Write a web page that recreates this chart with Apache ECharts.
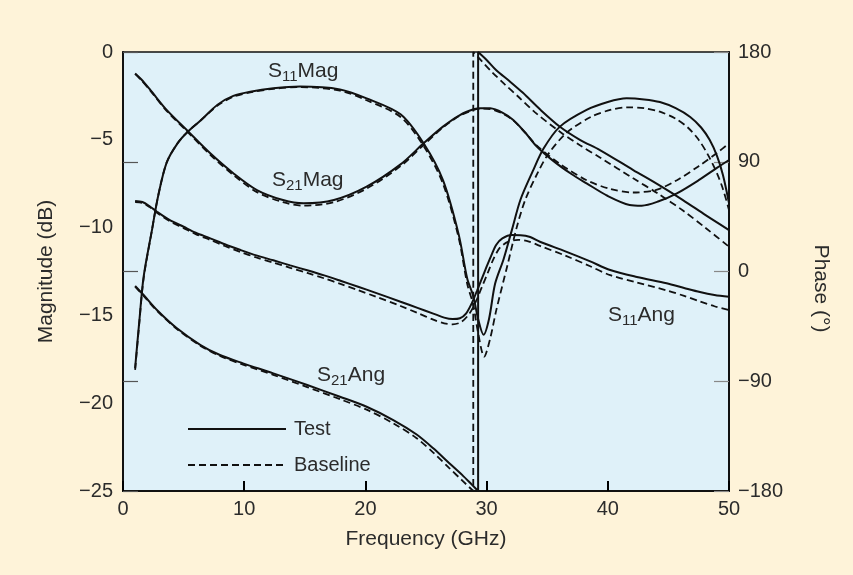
<!DOCTYPE html>
<html>
<head>
<meta charset="utf-8">
<title>S-parameters: Test vs Baseline</title>
<script src="https://cdn.jsdelivr.net/npm/echarts@6.0.0/dist/echarts.min.js"></script>
<style>
  html, body { margin: 0; padding: 0; background: #fef3d9; }
  #chart { width: 853px; height: 575px; }
</style>
</head>
<body>
<div id="chart"></div>
<script>
// [frequency GHz, magnitude dB]
const s11MagTest = [[1.0,-18.0],[1.35,-15.3],[1.7,-12.8],[2.4,-10.1],[2.9,-8.2],[3.6,-6.3],[4.5,-5.2],[5.4,-4.5],[6.4,-3.9],[7.8,-3.0],[9.1,-2.5],[10.5,-2.26],[12.4,-2.07],[14.6,-1.97],[17.9,-2.13],[20.1,-2.64],[22.9,-3.55],[24.8,-5.2],[26.4,-7.3],[27.7,-10.4],[28.4,-12.9],[28.9,-13.9],[29.3,-15.2],[29.75,-16.1],[30.2,-15.2],[30.7,-13.2],[31.4,-11.8],[32.1,-10.1],[32.8,-8.4],[33.8,-6.8],[34.7,-5.5],[36.05,-4.25],[38.25,-3.3],[40.0,-2.85],[41.55,-2.64],[43.0,-2.7],[44.3,-2.85],[45.6,-3.2],[46.8,-3.7],[47.7,-4.3],[48.4,-5.0],[49.0,-5.9],[49.5,-7.0],[50.0,-8.6]];
const s11MagBase = [[1.0,-18.1],[1.35,-15.4],[1.7,-12.9],[2.4,-10.1],[2.9,-8.2],[3.6,-6.3],[4.5,-5.2],[5.4,-4.5],[6.4,-3.9],[7.8,-3.05],[9.1,-2.55],[10.5,-2.3],[12.4,-2.1],[14.6,-2.0],[17.9,-2.2],[20.1,-2.75],[22.9,-3.7],[24.8,-5.35],[26.4,-7.5],[27.7,-10.6],[28.4,-13.2],[28.9,-14.4],[29.3,-16.0],[29.8,-17.35],[30.3,-16.3],[30.8,-14.7],[31.7,-12.2],[32.5,-9.95],[33.2,-8.4],[34.2,-6.9],[35.1,-5.8],[36.6,-4.6],[38.6,-3.7],[40.2,-3.3],[41.6,-3.15],[43.0,-3.2],[44.3,-3.4],[45.6,-3.8],[46.6,-4.3],[47.5,-5.0],[48.3,-5.9],[49.0,-6.9],[49.5,-7.8],[50.0,-9.0]];
const s21MagTest = [[1.0,-1.22],[1.5,-1.55],[2.25,-2.16],[3.6,-3.3],[5.4,-4.54],[7.2,-5.77],[9.1,-6.9],[11.05,-7.86],[13.2,-8.43],[14.9,-8.62],[17.4,-8.43],[20.1,-7.67],[22.9,-6.4],[24.8,-5.2],[26.4,-4.25],[27.8,-3.59],[29.0,-3.25],[29.5,-3.2],[30.3,-3.21],[31.3,-3.45],[32.2,-3.87],[33.2,-4.6],[34.1,-5.35],[35.5,-6.2],[37.0,-6.95],[38.25,-7.48],[40.0,-8.2],[41.8,-8.71],[42.8,-8.75],[44.2,-8.5],[45.7,-8.05],[47.5,-7.3],[49.0,-6.6],[50.0,-6.15]];
const s21MagBase = [[1.0,-1.25],[1.5,-1.6],[2.25,-2.2],[3.6,-3.35],[5.4,-4.6],[7.2,-5.85],[9.1,-7.0],[11.05,-7.98],[13.2,-8.55],[14.9,-8.75],[17.4,-8.55],[20.1,-7.78],[22.9,-6.5],[24.8,-5.3],[26.4,-4.3],[27.8,-3.62],[29.0,-3.28],[29.5,-3.22],[30.3,-3.25],[31.3,-3.5],[32.2,-3.9],[33.2,-4.6],[34.1,-5.3],[36.0,-6.35],[38.25,-7.3],[40.2,-7.8],[42.1,-8.0],[44.0,-7.85],[45.7,-7.3],[47.5,-6.5],[49.0,-5.75],[50.0,-5.2]];

// [frequency GHz, phase deg]
const s11AngTest = [[1.0,57.8],[1.6,57.0],[2.2,53.5],[2.8,49.0],[3.8,42.5],[5.0,36.7],[6.0,31.8],[7.2,27.2],[8.4,22.3],[9.7,17.6],[11.0,13.2],[12.4,9.2],[13.8,5.0],[15.2,1.0],[16.6,-3.2],[18.0,-7.8],[19.4,-12.5],[20.8,-17.3],[22.9,-24.8],[24.3,-29.8],[25.6,-34.5],[26.5,-37.8],[27.2,-39.0],[27.8,-38.3],[28.3,-34.5],[28.8,-25.5],[29.2,-16.0],[29.6,-6.0],[30.0,3.9],[30.4,13.5],[30.8,22.0],[31.3,27.2],[32.1,29.9],[32.8,29.8],[33.6,28.3],[34.4,24.4],[36.5,16.5],[38.5,8.5],[40.2,1.2],[42.4,-4.5],[44.85,-9.7],[46.3,-13.5],[47.6,-16.8],[48.8,-19.2],[50.0,-20.8]];
const s11AngBase = [[1.0,57.0],[1.6,56.3],[2.2,52.8],[2.8,48.2],[3.8,41.6],[5.0,35.6],[6.0,30.6],[7.2,25.9],[8.4,20.9],[9.7,16.0],[11.0,11.5],[12.4,7.3],[13.8,3.0],[15.2,-1.2],[16.6,-5.6],[18.0,-10.4],[19.4,-15.3],[20.8,-20.4],[22.9,-28.3],[24.3,-34.0],[25.6,-39.5],[26.5,-42.5],[27.2,-43.3],[27.9,-41.5],[28.6,-34.3],[29.1,-25.0],[29.6,-13.0],[30.1,-1.0],[30.6,11.0],[31.1,19.5],[31.8,24.5],[32.6,26.0],[33.5,24.5],[34.4,21.0],[36.5,13.0],[38.5,4.5],[40.2,-3.0],[42.4,-9.0],[44.85,-15.5],[46.3,-20.0],[47.6,-24.5],[48.8,-28.5],[50.0,-31.6]];
const s21AngTest = [[1.0,-11.9],[1.7,-19.3],[2.8,-31.6],[4.45,-46.6],[6.4,-60.3],[8.0,-68.5],[9.9,-75.3],[12.4,-83.5],[15.2,-93.1],[17.9,-102.7],[20.1,-110.9],[22.3,-121.8],[24.2,-133.5],[25.6,-145.0],[26.9,-157.0],[28.0,-167.0],[28.8,-175.0],[29.3,-180.0],[29.3,180.0],[30.0,173.5],[30.8,165.0],[31.9,156.0],[33.0,146.5],[34.4,133.0],[36.05,118.7],[37.7,108.0],[39.35,99.6],[42.1,83.2],[44.2,71.0],[46.2,58.6],[48.1,46.0],[50.0,34.0]];
const s21AngBase = [[1.0,-12.5],[1.7,-20.0],[2.8,-32.2],[4.45,-47.2],[6.4,-61.0],[8.0,-69.3],[9.9,-76.3],[12.4,-84.8],[15.2,-94.8],[17.9,-104.7],[20.1,-113.3],[22.3,-124.5],[24.2,-136.5],[25.6,-148.5],[26.9,-161.0],[28.0,-171.5],[28.9,-180.0],[28.9,180.0],[29.6,172.5],[30.4,164.0],[31.5,153.5],[32.6,143.5],[34.0,130.5],[36.05,114.6],[37.7,103.5],[39.35,93.5],[42.1,76.4],[44.2,63.5],[46.2,50.0],[48.1,35.5],[50.0,20.3]];

const freqTicks = [0, 10, 20, 30, 40, 50];
const magRange = [-25, 0];
const phaseRange = [-180, 180];

const font = '"Liberation Sans", Arial, Helvetica, sans-serif';
const ink = '#2b2b2b';
const minus = v => String(v).replace('-', '\u2212');

function curve(name, data, yAxisIndex, dashed) {
  return {
    name: name,
    type: 'line',
    data: data,
    yAxisIndex: yAxisIndex,
    symbol: 'none',
    smooth: 0.3,
    animation: false,
    lineStyle: { color: '#111', width: dashed ? 1.8 : 2, type: dashed ? [7, 4] : 'solid' },
    itemStyle: { color: '#111' },
    z: dashed ? 3 : 4
  };
}

function sLabel(left, top, sub, word) {
  return {
    type: 'text',
    left: left,
    top: top,
    z: 10,
    style: {
      text: '{m|S}{s|' + sub + '}{m|' + word + '}',
      rich: {
        m: { fontSize: 21, fontFamily: font, fill: ink, lineHeight: 24 },
        s: { fontSize: 15, fontFamily: font, fill: ink, lineHeight: 15, padding: [10, 0, 0, 0] }
      }
    }
  };
}

const myChart = echarts.init(document.getElementById('chart'));

const option = {
  backgroundColor: '#fef3d9',
  animation: false,
  textStyle: { fontFamily: font },
  grid: {
    left: 123, right: 124, top: 52, bottom: 84,
    show: true,
    backgroundColor: '#dff1f9',
    borderColor: '#111',
    borderWidth: 1.5
  },
  legend: {
    data: ['Test', 'Baseline'],
    orient: 'vertical',
    left: 182,
    top: 414,
    itemWidth: 98,
    itemHeight: 14,
    itemGap: 16,
    selectedMode: false,
    itemStyle: { color: 'transparent', borderColor: 'transparent', borderWidth: 0 },
    textStyle: { fontSize: 20, color: ink, fontFamily: font, padding: [0, 0, 0, 3] }
  },
  xAxis: {
    type: 'value',
    min: freqTicks[0],
    max: freqTicks[freqTicks.length - 1],
    interval: 10,
    name: 'Frequency (GHz)',
    nameLocation: 'middle',
    nameGap: 38,
    nameTextStyle: { fontSize: 21, color: ink, fontFamily: font },
    axisLine: { show: true, onZero: false, lineStyle: { color: '#111', width: 2 } },
    axisTick: { show: true, inside: true, length: 10, lineStyle: { color: '#000', width: 2 } },
    axisLabel: { fontSize: 20, color: ink, margin: 8, fontFamily: font },
    splitLine: { show: false }
  },
  yAxis: [
    {
      type: 'value',
      position: 'left',
      min: magRange[0],
      max: magRange[1],
      interval: 5,
      name: 'Magnitude (dB)',
      nameLocation: 'middle',
      nameGap: 66,
      nameTextStyle: { fontSize: 21, color: ink, fontFamily: font },
      axisLine: { show: true, onZero: false, lineStyle: { color: '#111', width: 2 } },
      axisTick: { show: false },
      axisLabel: { fontSize: 20, color: ink, margin: 10, fontFamily: font, formatter: minus },
      splitLine: { show: false }
    },
    {
      type: 'value',
      position: 'right',
      min: phaseRange[0],
      max: phaseRange[1],
      interval: 90,
      name: 'Phase (\u00b0)',
      nameLocation: 'middle',
      nameRotate: -90,
      nameGap: 81,
      nameTextStyle: { fontSize: 21, color: ink, fontFamily: font, padding: [0, 0, 0, 34] },
      axisLine: { show: true, onZero: false, lineStyle: { color: '#111', width: 2 } },
      axisTick: { show: true, inside: true, length: 15, lineStyle: { color: '#888', width: 1.2 } },
      axisLabel: { fontSize: 20, color: ink, margin: 9, fontFamily: font, formatter: minus },
      splitLine: { show: false }
    },
    {
      // phase ticks repeated on the left edge
      type: 'value',
      position: 'left',
      min: phaseRange[0],
      max: phaseRange[1],
      interval: 90,
      axisLine: { show: false, onZero: false },
      axisTick: { show: true, inside: true, length: 15, lineStyle: { color: '#555', width: 1.2 } },
      axisLabel: { show: false },
      splitLine: { show: false }
    }
  ],
  graphic: [
    sLabel(268, 59, '11', 'Mag'),
    sLabel(272, 168, '21', 'Mag'),
    sLabel(317, 363, '21', 'Ang'),
    sLabel(608, 303, '11', 'Ang')
  ],
  series: [
    curve('Test', s11MagTest, 0, false),
    curve('Baseline', s11MagBase, 0, true),
    curve('Test', s21MagTest, 0, false),
    curve('Baseline', s21MagBase, 0, true),
    curve('Test', s11AngTest, 1, false),
    curve('Baseline', s11AngBase, 1, true),
    curve('Test', s21AngTest, 1, false),
    curve('Baseline', s21AngBase, 1, true)
  ]
};

myChart.setOption(option);
</script>
</body>
</html>
